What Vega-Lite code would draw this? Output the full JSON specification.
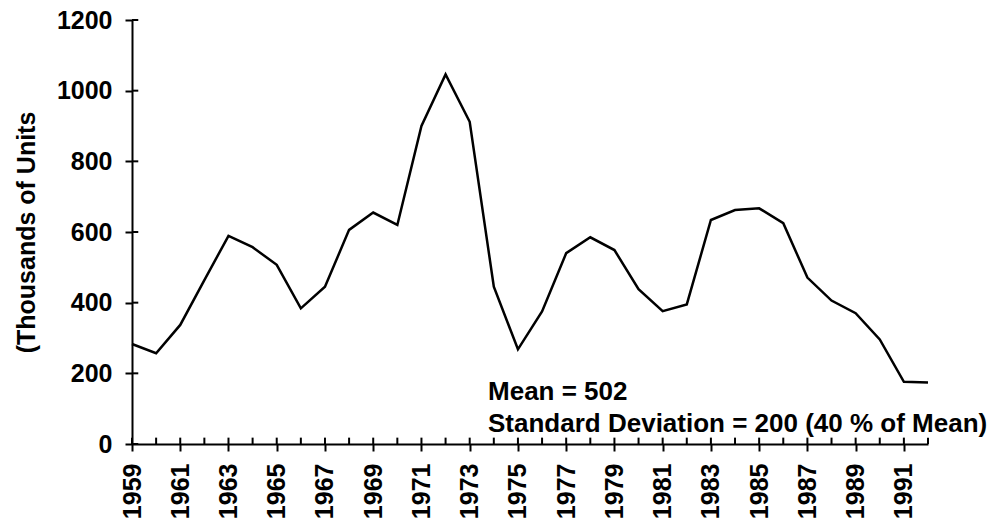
{
  "$schema": "https://vega.github.io/schema/vega-lite/v6.json",
  "autosize": "none",
  "width": 796,
  "height": 424,
  "padding": {"left": 132, "top": 20, "right": 66, "bottom": 75},
  "background": "white",
  "config": {
    "view": {"stroke": null},
    "font": "Liberation Sans",
    "axis": {
      "domainColor": "black", "domainWidth": 2, "tickColor": "black", "tickWidth": 2,
      "labelColor": "black", "labelFont": "Liberation Sans", "labelFontSize": 25, "labelFontWeight": "bold",
      "titleColor": "black", "titleFont": "Liberation Sans", "titleFontSize": 25, "titleFontWeight": "bold",
      "grid": false
    }
  },
  "datasets": {
    "series": [
      {"year": 1959, "units": 283}, {"year": 1960, "units": 257}, {"year": 1961, "units": 337},
      {"year": 1962, "units": 464}, {"year": 1963, "units": 589}, {"year": 1964, "units": 557},
      {"year": 1965, "units": 507}, {"year": 1966, "units": 384}, {"year": 1967, "units": 445},
      {"year": 1968, "units": 606}, {"year": 1969, "units": 655}, {"year": 1970, "units": 620},
      {"year": 1971, "units": 900}, {"year": 1972, "units": 1046}, {"year": 1973, "units": 912},
      {"year": 1974, "units": 445}, {"year": 1975, "units": 268}, {"year": 1976, "units": 375},
      {"year": 1977, "units": 540}, {"year": 1978, "units": 585}, {"year": 1979, "units": 549},
      {"year": 1980, "units": 438}, {"year": 1981, "units": 376}, {"year": 1982, "units": 395},
      {"year": 1983, "units": 634}, {"year": 1984, "units": 662}, {"year": 1985, "units": 667},
      {"year": 1986, "units": 625}, {"year": 1987, "units": 471}, {"year": 1988, "units": 406},
      {"year": 1989, "units": 370}, {"year": 1990, "units": 296}, {"year": 1991, "units": 176},
      {"year": 1992, "units": 174}
    ],
    "yticks": [{"v": 0}, {"v": 200}, {"v": 400}, {"v": 600}, {"v": 800}, {"v": 1000}, {"v": 1200}],
    "note": [{"label": "Mean = 502\nStandard Deviation = 200 (40 % of Mean)"}]
  },
  "data": {"name": "series"},
  "layer": [
    {
      "mark": {"type": "line", "color": "black", "strokeWidth": 2.5},
      "encoding": {
        "x": {"field": "year", "type": "quantitative",
          "scale": {"domain": [1959, 1992], "nice": false, "zero": false},
          "axis": {"orient": "bottom", "title": null, "tickSize": 7, "labelPadding": 12,
            "labelAngle": 270, "labelAlign": "right", "labelBaseline": "middle", "format": "d",
            "values": [1959,1960,1961,1962,1963,1964,1965,1966,1967,1968,1969,1970,1971,1972,1973,1974,1975,1976,1977,1978,1979,1980,1981,1982,1983,1984,1985,1986,1987,1988,1989,1990,1991,1992],
            "labelExpr": "datum.value % 2 == 1 ? datum.label : ''", "labelOverlap": false, "labelFlush": false}},
        "y": {"field": "units", "type": "quantitative",
          "scale": {"domain": [0, 1200], "nice": false},
          "axis": {"orient": "left", "title": "(Thousands of Units", "titlePadding": 17, "tickSize": 7, "labelPadding": 13, "format": "d",
            "values": [0, 200, 400, 600, 800, 1000, 1200], "labelOverlap": false, "labelFlush": false}}
      }
    },
    {
      "mark": {"type": "rule", "color": "black", "strokeWidth": 2},
      "encoding": {
        "x": {"field": "year", "type": "quantitative"},
        "y": {"datum": 0, "type": "quantitative"},
        "y2": {"datum": 18}
      }
    },
    {
      "data": {"name": "yticks"},
      "mark": {"type": "rule", "color": "black", "strokeWidth": 2},
      "encoding": {
        "y": {"field": "v", "type": "quantitative"},
        "x": {"datum": 1959, "type": "quantitative"},
        "x2": {"datum": 1959.26}
      }
    },
    {
      "data": {"name": "note"},
      "mark": {"type": "text", "align": "left", "baseline": "alphabetic", "font": "Liberation Sans", "fontSize": 26, "fontWeight": "bold", "color": "black", "lineHeight": 32, "lineBreak": "\n"},
      "encoding": {
        "text": {"field": "label"},
        "x": {"datum": 1973.76, "type": "quantitative"},
        "y": {"datum": 124.5, "type": "quantitative"}
      }
    }
  ]
}
